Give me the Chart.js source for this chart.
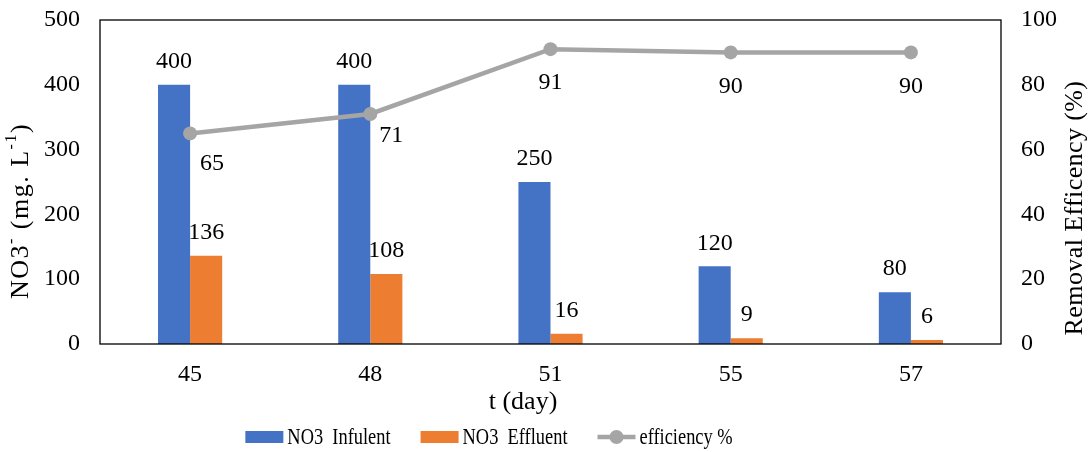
<!DOCTYPE html>
<html>
<head>
<meta charset="utf-8">
<script src="https://cdn.jsdelivr.net/npm/chart.js@4/dist/chart.umd.min.js"></script>
<style>
  html, body { margin: 0; padding: 0; background: #fff; }
  #wrap { width: 1090px; height: 452px; position: relative; }
</style>
</head>
<body>
<div id="wrap"><canvas id="c" width="1090" height="452"></canvas></div>
<script>
// Nitrate removal over time
const days = ['45', '48', '51', '55', '57'];
const influent = [400, 400, 250, 120, 80];
const effluent = [136, 108, 16, 9, 6];
const efficiency = [65, 71, 91, 90, 90];
const leftTicks = [0, 100, 200, 300, 400, 500];
const rightTicks = [0, 20, 40, 60, 80, 100];

const FONT = '"Liberation Serif", "Times New Roman", serif';
const BLUE = '#4472C4', ORANGE = '#ED7D31', GREY = '#A5A5A5';

// value labels, axis titles, frame and legend
const decor = {
  id: 'decor',
  afterDatasetsDraw(chart) {
    const ctx = chart.ctx;
    const a = chart.chartArea;
    ctx.save();
    // frame round the plot
    ctx.strokeStyle = '#000';
    ctx.lineWidth = 1.3;
    ctx.strokeRect(a.left, a.top, a.right - a.left, a.bottom - a.top);

    ctx.fillStyle = '#000';
    ctx.font = '24px ' + FONT;
    ctx.textAlign = 'center';
    // bar values above bars
    [0, 1].forEach(di => {
      const meta = chart.getDatasetMeta(di);
      meta.data.forEach((el, i) => {
        ctx.textBaseline = 'bottom';
        ctx.fillText(String(chart.data.datasets[di].data[i]), el.x, el.y - 11);
      });
    });
    // efficiency values below points
    const lineOffX = [22, 21, 0, 0, 0];
    const lineOffY = [30, 22, 34, 34, 34];
    const lm = chart.getDatasetMeta(2);
    lm.data.forEach((el, i) => {
      ctx.textBaseline = 'middle';
      ctx.fillText(String(efficiency[i]), el.x + lineOffX[i], el.y + lineOffY[i]);
    });

    // x axis title
    ctx.font = '26px ' + FONT;
    ctx.textBaseline = 'middle';
    ctx.fillText('t (day)', 523, 402);

    // right axis title
    ctx.save();
    ctx.translate(1075, 208);
    ctx.rotate(-Math.PI / 2);
    ctx.letterSpacing = '0.4px';
    ctx.fillText('Removal Efficency (%)', 0, 0);
    ctx.restore();

    // left axis title with superscripts
    ctx.save();
    ctx.translate(21, 211);
    ctx.rotate(-Math.PI / 2);
    ctx.letterSpacing = '1.5px';
    const parts = [
      ['NO3', false], ['-', true], [' (mg. L', false], ['-1', true], [')', false]
    ];
    const big = '26px ' + FONT, small = '16px ' + FONT;
    let total = 0;
    parts.forEach(p => { ctx.font = p[1] ? small : big; total += ctx.measureText(p[0]).width; });
    let x = -total / 2;
    ctx.textAlign = 'left';
    parts.forEach(p => {
      ctx.font = p[1] ? small : big;
      ctx.fillText(p[0], x, p[1] ? -9 : 0);
      x += ctx.measureText(p[0]).width;
    });
    ctx.restore();

    // legend
    const lg = chart.data.datasets.map(d => d.label);
    const sx = 0.8;
    ctx.font = '23px ' + FONT;
    const boxW = 38, gapT = 4, gapI = 30;
    const widths = lg.map(t => ctx.measureText(t).width * sx);
    let tot = 0;
    widths.forEach((w, i) => { tot += boxW + gapT + w + (i < widths.length - 1 ? gapI : 0); });
    let lx = 489 - tot / 2;
    const ly = 437;
    lg.forEach((t, i) => {
      const ds = chart.data.datasets[i];
      if (ds.type === 'line') {
        ctx.strokeStyle = GREY;
        ctx.lineWidth = 4.5;
        ctx.beginPath();
        ctx.moveTo(lx, ly); ctx.lineTo(lx + boxW, ly);
        ctx.stroke();
        ctx.fillStyle = GREY;
        ctx.beginPath();
        ctx.arc(lx + boxW / 2, ly, 7, 0, Math.PI * 2);
        ctx.fill();
      } else {
        ctx.fillStyle = ds.backgroundColor;
        ctx.fillRect(lx, ly - 6, boxW, 12);
      }
      ctx.fillStyle = '#000';
      ctx.save();
      ctx.translate(lx + boxW + gapT, ly);
      ctx.scale(sx, 1);
      ctx.textAlign = 'left';
      ctx.textBaseline = 'middle';
      ctx.fillText(t, 0, 1);
      ctx.restore();
      lx += boxW + gapT + widths[i] + gapI;
    });
    ctx.restore();
  }
};

function fitY(width) {
  return function (s) {
    s.width = width;
    s.paddingTop = 0;
    s.paddingBottom = 0;
  };
}

new Chart(document.getElementById('c'), {
  data: {
    labels: days,
    datasets: [
      { type: 'bar', label: 'NO3  Infulent', data: influent, backgroundColor: BLUE, yAxisID: 'y', order: 2,
        categoryPercentage: 0.356, barPercentage: 1 },
      { type: 'bar', label: 'NO3  Effluent', data: effluent, backgroundColor: ORANGE, yAxisID: 'y', order: 2,
        categoryPercentage: 0.356, barPercentage: 1 },
      { type: 'line', label: 'efficiency %', data: efficiency, yAxisID: 'y1', order: 1,
        borderColor: GREY, backgroundColor: GREY, borderWidth: 4.5,
        pointRadius: 7, pointBackgroundColor: GREY, pointBorderWidth: 0, tension: 0 }
    ]
  },
  options: {
    responsive: false,
    animation: false,
    events: [],
    layout: { padding: { top: 20, left: 0, right: 0, bottom: 0 } },
    plugins: { legend: { display: false }, tooltip: { enabled: false } },
    scales: {
      x: {
        grid: { display: false, drawTicks: false },
        border: { display: false },
        ticks: { color: '#000', font: { family: FONT, size: 24 }, padding: 16 },
        afterFit(s) { s.height = 108; s.paddingLeft = 0; s.paddingRight = 0; }
      },
      y: {
        position: 'left', min: 0, max: 500,
        afterBuildTicks(s) { s.ticks = leftTicks.map(v => ({ value: v })); },
        grid: { display: false, drawTicks: false },
        border: { display: false },
        ticks: { color: '#000', font: { family: FONT, size: 24 }, padding: 20 },
        afterFit: fitY(100)
      },
      y1: {
        position: 'right', min: 0, max: 100,
        afterBuildTicks(s) { s.ticks = rightTicks.map(v => ({ value: v })); },
        grid: { display: false, drawTicks: false },
        border: { display: false },
        ticks: { color: '#000', font: { family: FONT, size: 24 }, padding: 20 },
        afterFit: fitY(89)
      }
    }
  },
  plugins: [decor]
});
</script>
</body>
</html>
